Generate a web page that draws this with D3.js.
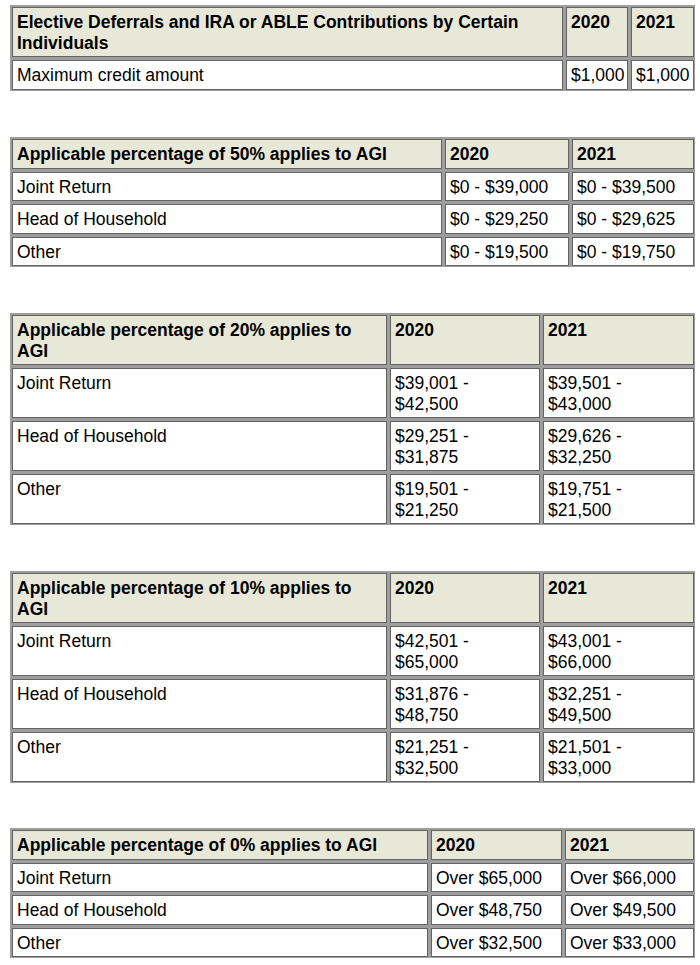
<!DOCTYPE html>
<html>
<head>
<meta charset="utf-8">
<script src="https://cdn.jsdelivr.net/npm/d3@7"></script>
<style>
  body { margin: 0; background: #fff; }
  svg text { font-family: 'Liberation Sans', Arial, sans-serif; font-size: 17.5px; fill: #000; }
</style>
</head>
<body>
<svg id="chart" width="700" height="965"></svg>
<script>
// ---- data ----
const years = ['2020', '2021']
const filers = ['Joint Return', 'Head of Household', 'Other']

const creditTitle = 'Elective Deferrals and IRA or ABLE Contributions by Certain Individuals'
const creditRows = ['Maximum credit amount']
const credit2020 = ['$1,000']
const credit2021 = ['$1,000']

const pct50Title = 'Applicable percentage of 50% applies to AGI'
const pct50_2020 = ['$0 - $39,000', '$0 - $29,250', '$0 - $19,500']
const pct50_2021 = ['$0 - $39,500', '$0 - $29,625', '$0 - $19,750']

const pct20Title = 'Applicable percentage of 20% applies to AGI'
const pct20_2020 = ['$39,001 - $42,500', '$29,251 - $31,875', '$19,501 - $21,250']
const pct20_2021 = ['$39,501 - $43,000', '$29,626 - $32,250', '$19,751 - $21,500']

const pct10Title = 'Applicable percentage of 10% applies to AGI'
const pct10_2020 = ['$42,501 - $65,000', '$31,876 - $48,750', '$21,251 - $32,500']
const pct10_2021 = ['$43,001 - $66,000', '$32,251 - $49,500', '$21,501 - $33,000']

const pct0Title = 'Applicable percentage of 0% applies to AGI'
const pct0_2020 = ['Over $65,000', 'Over $48,750', 'Over $32,500']
const pct0_2021 = ['Over $66,000', 'Over $49,500', 'Over $33,000']

// layout: table top and column dividers
const tables = [
  { title: creditTitle, labels: creditRows, cols: [credit2020, credit2021], top: 5, edges: [10, 564, 629, 695] },
  { title: pct50Title, labels: filers, cols: [pct50_2020, pct50_2021], top: 137, edges: [10, 443, 570, 695] },
  { title: pct20Title, labels: filers, cols: [pct20_2020, pct20_2021], top: 313, edges: [10, 388, 541, 695] },
  { title: pct10Title, labels: filers, cols: [pct10_2020, pct10_2021], top: 571, edges: [10, 388, 541, 695] },
  { title: pct0Title, labels: filers, cols: [pct0_2020, pct0_2021], top: 828, edges: [10, 429, 563, 695] }
]

const svg = d3.select('#chart')
const lineH = 21
const padX = 7
const baseOff = 22.5
const headerFill = '#e8e8d9'
const gridFill = '#9e9e9e'
const cellStroke = '#636363'

// hidden text used to measure words
const probe = svg.append('text').attr('x', -1000).attr('y', -1000)
function measure (s, bold) {
  probe.attr('font-weight', bold ? 'bold' : null).text(s)
  return probe.node().getComputedTextLength()
}
function wrap (s, width, bold) {
  const words = s.split(' ')
  const lines = []
  let cur = ''
  words.forEach(w => {
    const test = cur ? cur + ' ' + w : w
    if (cur && measure(test, bold) > width) {
      lines.push(cur)
      cur = w
    } else {
      cur = test
    }
  })
  if (cur) lines.push(cur)
  return lines
}

tables.forEach(t => {
  const e = t.edges
  const colW = d3.range(3).map(i => e[i + 1] - e[i] - padX * 2)

  // header row, then one row per label
  const rows = [{ head: true, cells: [t.title].concat(years) }]
  t.labels.forEach((lab, i) => {
    rows.push({ head: false, cells: [lab, t.cols[0][i], t.cols[1][i]] })
  })
  rows.forEach(r => {
    r.lines = r.cells.map((c, i) => wrap(c, colW[i], r.head))
    const n = d3.max(r.lines, l => l.length)
    r.h = n === 1 ? 32.5 : n * lineH + 11
  })
  let acc = t.top
  const ys = [t.top]
  rows.forEach(r => { acc += r.h; ys.push(Math.round(acc)) })
  const bottom = ys[ys.length - 1]

  const g = svg.append('g')
  g.append('rect')
    .attr('x', e[0]).attr('y', t.top)
    .attr('width', e[3] - e[0]).attr('height', bottom - t.top)
    .attr('fill', gridFill)

  rows.forEach((r, ri) => {
    r.cells.forEach((c, ci) => {
      const x0 = e[ci] + 2
      const y0 = ys[ri] + 2
      const w = e[ci + 1] - e[ci] - 3
      const h = ys[ri + 1] - ys[ri] - 3
      g.append('rect')
        .attr('x', x0 + 0.5).attr('y', y0 + 0.5)
        .attr('width', w - 1).attr('height', h - 1)
        .attr('fill', r.head ? headerFill : '#fff')
        .attr('stroke', cellStroke)
        .attr('stroke-width', 1)
      const txt = g.append('text')
        .attr('x', e[ci] + padX)
        .attr('y', ys[ri] + baseOff)
        .attr('font-weight', r.head ? 'bold' : null)
      txt.selectAll('tspan')
        .data(r.lines[ci])
        .join('tspan')
        .attr('x', e[ci] + padX)
        .attr('dy', (d, i) => i === 0 ? 0 : lineH)
        .text(d => d)
    })
  })
})
probe.remove()
</script>
</body>
</html>
